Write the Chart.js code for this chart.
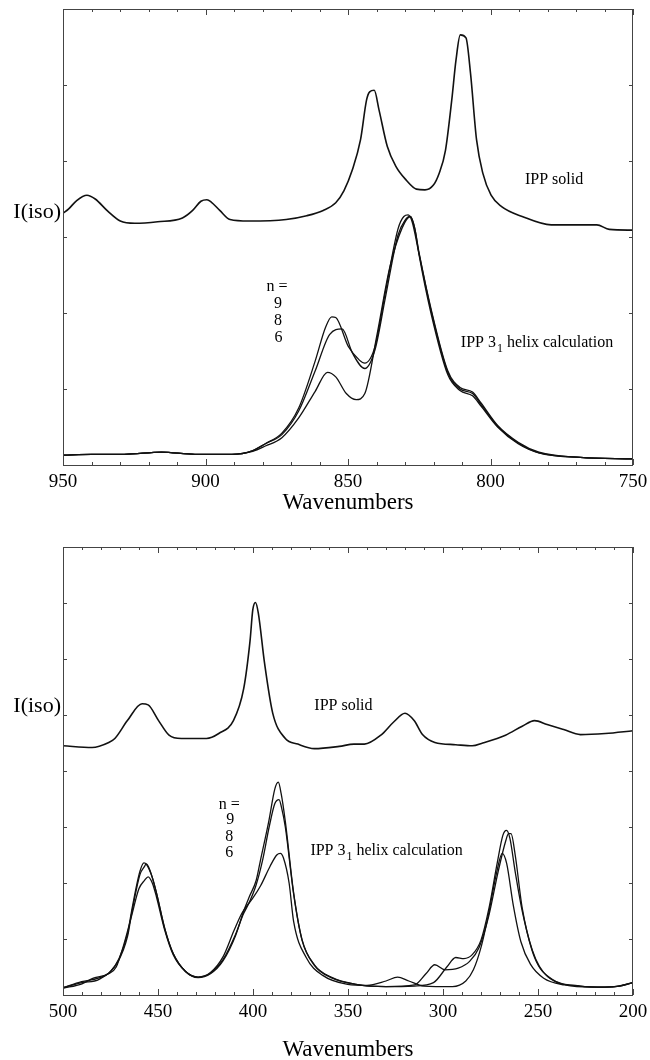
<!DOCTYPE html>
<html>
<head>
<meta charset="utf-8">
<script src="https://cdn.jsdelivr.net/npm/chart.js@4.4.1/dist/chart.umd.min.js"></script>
<style>
  html, body { margin: 0; padding: 0; background: #fff; overflow: hidden; }
  #wrap { position: relative; width: 650px; height: 1060px; }
  canvas { position: absolute; left: 0; }
</style>
</head>
<body>
<div id="wrap">
  <canvas id="hiChart" width="650" height="530" style="top:0"></canvas>
  <canvas id="loChart" width="650" height="540" style="top:530px"></canvas>
</div>
<script>
// 950 - 750 cm-1 region
var hiTicks = [750, 800, 850, 900, 950];
var hiSolid = [[950,3.31],[948,3.37],[945.2,3.48],[941.6,3.55],[938.7,3.50],[934.3,3.34],[929.9,3.21],[924.8,3.18],
  [916.8,3.20],[908.1,3.25],[904.5,3.35],[901.6,3.47],[899.5,3.49],[898,3.46],[895,3.35],[891.4,3.23],[884.8,3.21],
  [871.7,3.23],[864.5,3.28],[858.7,3.35],[854.3,3.45],[851.4,3.61],[848.5,3.88],[845.6,4.28],[843.5,4.80],[842.4,4.91],
  [840.8,4.93],[839.1,4.67],[836.2,4.19],[833.2,3.93],[829.6,3.75],[826,3.63],[823,3.62],[820.1,3.68],[818,3.84],
  [815.8,4.14],[813.6,4.80],[812.1,5.33],[810.6,5.66],[808.6,5.62],[807,5.15],[804.9,4.28],[802.7,3.84],[799.8,3.55],
  [796.1,3.40],[788.9,3.27],[778.7,3.16],[762.7,3.16],[758.3,3.10],[750,3.09]];
var hiN9 = [[950,0.13],[940,0.14],[928.5,0.14],[915.4,0.17],[903.7,0.14],[890.7,0.14],[883.4,0.19],[879,0.28],[873.2,0.42],
  [867.3,0.75],[861.5,1.37],[857.9,1.81],[855.7,1.95],[854.3,1.94],[849.9,1.56],[846,1.38],[844.1,1.34],[840.5,1.56],
  [836.9,2.27],[832.5,3.10],[830.4,3.27],[828.9,3.29],[827.5,3.20],[825.2,2.80],[820.9,2.04],[815,1.22],[810.7,1.00],
  [806.3,0.94],[803.4,0.80],[797.5,0.51],[790.3,0.29],[783,0.16],[768.5,0.10],[750,0.08]];
var hiN8 = [[950,0.13],[940,0.14],[928.5,0.14],[915.4,0.17],[903.7,0.14],[890.7,0.14],[883.4,0.19],[879,0.28],[873.2,0.40],
  [867.3,0.71],[861.5,1.24],[856.4,1.72],[852.1,1.79],[848.4,1.47],[844.1,1.27],[840.5,1.52],[836.9,2.20],[832.5,3.02],
  [830,3.22],[828.3,3.27],[826.8,3.15],[825,2.78],[820.9,2.06],[815,1.24],[810.7,1.02],[806.3,0.96],[803.4,0.82],
  [797.5,0.52],[790.3,0.30],[783,0.17],[768.5,0.10],[750,0.08]];
var hiN6 = [[950,0.13],[940,0.14],[928.5,0.14],[915.4,0.17],[903.7,0.14],[890.7,0.14],[883.4,0.18],[879,0.25],[873.2,0.36],
  [867.3,0.62],[861.5,0.97],[857.2,1.22],[854.3,1.16],[850.6,0.94],[847.1,0.86],[844.1,0.94],[839.8,1.72],[835.4,2.59],
  [831,3.12],[828.1,3.27],[826.5,3.10],[825,2.75],[820.9,2.00],[815,1.19],[810.7,0.98],[806.3,0.91],[803.4,0.78],
  [797.5,0.50],[790.3,0.28],[783,0.16],[768.5,0.10],[750,0.08]];

// 500 - 200 cm-1 region
var loTicks = [200, 250, 300, 350, 400, 450, 500];
var loSolid = [[500,4.45],[484.7,4.42],[475.9,4.51],[472.7,4.58],[466.1,4.90],[458.4,5.20],[455.2,5.18],[449.7,4.90],
  [444.2,4.64],[437.7,4.58],[424.5,4.58],[418,4.67],[410.3,4.90],[404.9,5.47],[401.6,6.31],[400.1,6.88],[398.7,7.01],
  [397.2,6.82],[393.9,5.92],[389.6,5.03],[383,4.58],[376.4,4.48],[367.7,4.40],[354.6,4.44],[346.9,4.48],[341.4,4.48],
  [332.7,4.64],[326.1,4.87],[320,5.03],[315.2,4.90],[310.8,4.65],[304.3,4.51],[293.3,4.47],[284.6,4.45],[279.1,4.50],
  [267.1,4.64],[258.3,4.80],[251.8,4.90],[245.2,4.83],[236.5,4.74],[227.7,4.65],[214.6,4.67],[200,4.72]];
var loN9 = [[500,0.13],[490.2,0.24],[481.4,0.30],[475,0.42],[470.5,0.65],[466,1.10],[463.9,1.50],[459.5,2.21],[457.4,2.36],
  [456,2.33],[453,2.10],[450.8,1.82],[446.4,1.18],[442,0.74],[435.5,0.42],[428.9,0.31],[422.4,0.38],[415.8,0.61],
  [409.2,1.06],[404.9,1.50],[402,1.75],[398.3,2.05],[396.1,2.40],[391.7,3.10],[388.5,3.68],[386.7,3.80],[385.2,3.60],
  [383,3.10],[378.6,1.82],[374.2,0.99],[367.7,0.54],[358.9,0.32],[345.8,0.19],[330,0.15],[315,0.16],[305,0.22],
  [298,0.50],[293.3,0.67],[289,0.65],[284.6,0.72],[280,0.98],[275.8,1.55],[271.5,2.35],[268.5,2.85],[266.6,2.94],
  [264.8,2.80],[262,2.20],[258.3,1.50],[251.8,0.67],[243,0.29],[227.7,0.16],[214.6,0.14],[207,0.16],[200,0.22]];
var loN8 = [[500,0.13],[490,0.22],[481,0.28],[471,0.60],[466,1.05],[463.9,1.45],[459.5,2.15],[457,2.30],[456.3,2.34],
  [454.5,2.25],[451,1.85],[446.4,1.18],[442,0.74],[435.5,0.42],[429,0.32],[422.4,0.39],[415.8,0.63],[409.2,1.08],
  [405,1.45],[402,1.65],[398.5,1.95],[395,2.40],[391.5,3.00],[388.5,3.42],[386.3,3.49],[385,3.35],[383,3.00],
  [378.6,1.80],[374.2,0.98],[367.7,0.53],[358.9,0.31],[345.8,0.19],[330,0.15],[315,0.18],[309,0.38],[304.3,0.54],
  [299,0.45],[292,0.48],[286,0.60],[281,0.85],[276,1.40],[271,2.20],[267,2.75],[265.5,2.88],[264.2,2.88],[262,2.50],
  [258.3,1.55],[253,0.80],[245,0.33],[228,0.16],[214.6,0.14],[207,0.16],[200,0.22]];
var loN6 = [[500,0.12],[490,0.20],[484,0.30],[476,0.38],[472,0.50],[468,0.90],[464,1.40],[460,1.90],[457,2.05],
  [455.2,2.11],[453,2.00],[450.8,1.75],[446.4,1.15],[442,0.72],[435.5,0.42],[428.9,0.32],[422.4,0.40],[415.8,0.68],
  [410,1.15],[406,1.45],[403.5,1.58],[400.3,1.72],[396,1.95],[391,2.30],[387.5,2.50],[385.6,2.53],[384,2.45],
  [381,2.00],[378.6,1.31],[372,0.67],[363.3,0.35],[350.2,0.19],[340,0.17],[330,0.25],[323.9,0.32],[318,0.25],
  [310,0.16],[295,0.15],[288,0.25],[284,0.45],[280,0.85],[276,1.45],[272,2.15],[268.8,2.53],[266.5,2.35],[263,1.60],
  [259,0.95],[254,0.55],[247,0.30],[236,0.18],[222,0.14],[210,0.15],[200,0.22]];

var serif = '"Liberation Serif", "DejaVu Serif", serif';
Chart.defaults.font.family = serif;
Chart.defaults.color = '#000';

function toPoints(arr) {
  return arr.map(function(p) { return { x: p[0], y: p[1] }; });
}

function trace(arr, width) {
  return {
    data: toPoints(arr),
    borderColor: '#111',
    borderWidth: width,
    pointRadius: 0,
    fill: false,
    cubicInterpolationMode: 'monotone'
  };
}

// frame, inward ticks and the text notes inside the plot
var framePlugin = {
  id: 'frame',
  afterDraw: function(chart, args, opts) {
    var ctx = chart.ctx, a = chart.chartArea;
    var xs = chart.scales.x, ys = chart.scales.y;
    ctx.save();
    ctx.strokeStyle = '#444';
    ctx.lineWidth = 1;
    ctx.strokeRect(a.left + 0.5, a.top + 0.5, a.right - a.left - 1, a.bottom - a.top);

    ctx.beginPath();
    for (var v = xs.min; v <= xs.max; v += 10) {
      var px = Math.round(xs.getPixelForValue(v)) + 0.5;
      var len = v % 50 === 0 ? 6 : 3;
      ctx.moveTo(px, a.bottom); ctx.lineTo(px, a.bottom - len);
      ctx.moveTo(px, a.top); ctx.lineTo(px, a.top + len);
    }
    for (var k = 1; k < ys.max; k++) {
      var py = Math.round(ys.getPixelForValue(k)) + 0.5;
      ctx.moveTo(a.left, py); ctx.lineTo(a.left + 4, py);
      ctx.moveTo(a.right, py); ctx.lineTo(a.right - 4, py);
    }
    ctx.stroke();

    ctx.fillStyle = '#000';
    ctx.textBaseline = 'middle';
    // y axis title, written sideways to the left of the frame
    ctx.font = '22px ' + serif;
    ctx.textAlign = 'right';
    ctx.fillText('I(iso)', a.left - 2, ys.getPixelForValue(opts.yTitleAt));

    opts.notes.forEach(function(n) {
      var x = xs.getPixelForValue(n.x), y = ys.getPixelForValue(n.y);
      ctx.font = '16px ' + serif;
      ctx.textAlign = n.align || 'center';
      if (!n.sub) {
        ctx.fillText(n.text, x, y);
        return;
      }
      // label with a subscript: head, small lowered digit, tail
      ctx.textAlign = 'left';
      ctx.fillText(n.text, x, y);
      x += ctx.measureText(n.text).width + 1;
      ctx.font = '12px ' + serif;
      ctx.fillText(n.sub, x, y + 6);
      x += ctx.measureText(n.sub).width;
      ctx.font = '16px ' + serif;
      ctx.fillText(n.tail, x, y);
    });
    ctx.restore();
  }
};

function makeChart(id, cfg) {
  return new Chart(document.getElementById(id), {
    type: 'line',
    data: { datasets: cfg.datasets },
    options: {
      responsive: false,
      animation: false,
      layout: { padding: { left: 63, right: 17, top: cfg.top, bottom: 0 } },
      plugins: {
        legend: { display: false },
        tooltip: { enabled: false },
        frame: cfg.frame
      },
      scales: {
        x: {
          type: 'linear',
          reverse: true,
          min: cfg.xMin,
          max: cfg.xMax,
          afterBuildTicks: function(s) { s.ticks = cfg.xTicks.map(function(v) { return { value: v }; }); },
          afterFit: function(s) { s.height = cfg.axisHeight; },
          grid: { display: false, drawTicks: false },
          border: { display: false },
          ticks: { autoSkip: false, maxRotation: 0, padding: 6, color: '#000', font: { size: 19 } },
          title: {
            display: true,
            text: 'Wavenumbers',
            color: '#000',
            font: { size: 23 },
            padding: { top: 0, bottom: cfg.titlePad }
          }
        },
        y: { display: false, min: 0, max: cfg.yMax }
      }
    },
    plugins: [framePlugin]
  });
}

makeChart('hiChart', {
  datasets: [trace(hiSolid, 1.6), trace(hiN9, 1.3), trace(hiN8, 1.3), trace(hiN6, 1.3)],
  xMin: 750, xMax: 950, xTicks: hiTicks, yMax: 6,
  top: 9, axisHeight: 65, titlePad: 13,
  frame: {
    yTitleAt: 3.33,
    notes: [
      { text: 'IPP solid', x: 777.7, y: 3.75 },
      { text: 'n =', x: 874.9, y: 2.34 },
      { text: '9', x: 874.6, y: 2.12 },
      { text: '8', x: 874.6, y: 1.90 },
      { text: '6', x: 874.4, y: 1.68 },
      { text: 'IPP 3', sub: '1', tail: ' helix calculation', x: 810.4, y: 1.61 }
    ]
  }
});

makeChart('loChart', {
  datasets: [trace(loSolid, 1.6), trace(loN9, 1.3), trace(loN8, 1.3), trace(loN6, 1.3)],
  xMin: 200, xMax: 500, xTicks: loTicks, yMax: 8,
  top: 17, axisHeight: 75, titlePad: 6,
  frame: {
    yTitleAt: 5.16,
    notes: [
      { text: 'IPP solid', x: 352.4, y: 5.16 },
      { text: 'n =', x: 412.5, y: 3.39 },
      { text: '9', x: 412, y: 3.12 },
      { text: '8', x: 412.5, y: 2.82 },
      { text: '6', x: 412.5, y: 2.54 },
      { text: 'IPP 3', sub: '1', tail: ' helix calculation', x: 369.8, y: 2.57 }
    ]
  }
});
</script>
</body>
</html>
